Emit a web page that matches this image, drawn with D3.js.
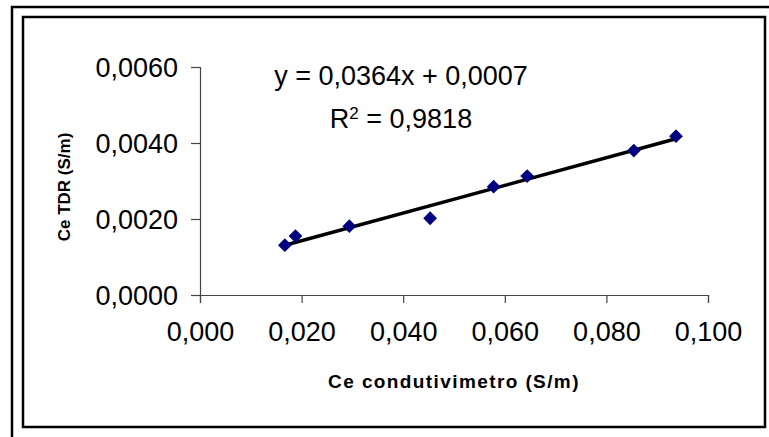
<!DOCTYPE html>
<html><head><meta charset="utf-8">
<script src="https://cdn.jsdelivr.net/npm/d3@7"></script>
<style>body{margin:0;background:#fff}svg{display:block}</style>
</head><body>
<script>
const xValues = [0.0167, 0.0188, 0.0294, 0.0453, 0.0578, 0.0644, 0.0854, 0.0937];
const yValues = [0.00131, 0.00155, 0.00181, 0.00202, 0.00285, 0.00313, 0.00380, 0.00418];
const xTicks = [0, 0.02, 0.04, 0.06, 0.08, 0.1];
const yTicks = [0, 0.002, 0.004, 0.006];
const slope = 0.0364, intercept = 0.0007;
const eqText = "y = 0,0364x + 0,0007";
const r2Value = "0,9818";
const xTitle = "Ce condutivimetro (S/m)";
const yTitle = "Ce TDR (S/m)";

const W = 769, H = 437;
const svg = d3.select("body").append("svg").attr("width", W).attr("height", H);
const font = "'Liberation Sans', Arial, sans-serif";

// frames
svg.append("path").attr("d", `M12,${H} V7 H${W}`).attr("fill","none").attr("stroke","#000").attr("stroke-width",2.5);
svg.append("rect").attr("x",23).attr("y",17).attr("width",742).attr("height",410)
  .attr("fill","none").attr("stroke","#000").attr("stroke-width",2.5);

const x = d3.scaleLinear().domain([0, 0.1]).range([200, 708]);
const y = d3.scaleLinear().domain([0, 0.006]).range([295, 67]);
const fmtX = d => d3.format(".3f")(d).replace(".", ",");
const fmtY = d => d3.format(".4f")(d).replace(".", ",");

const xAxis = svg.append("g").attr("transform", `translate(0,${y(0)})`)
  .call(d3.axisBottom(x).tickValues(xTicks).tickFormat(fmtX).tickSize(8).tickPadding(18));
const yAxis = svg.append("g").attr("transform", `translate(${x(0)},0)`)
  .call(d3.axisLeft(y).tickValues(yTicks).tickFormat(fmtY).tickSize(9).tickPadding(13));
[xAxis, yAxis].forEach(g => {
  g.selectAll("path,line").attr("stroke","#444").attr("stroke-width",1.2);
  g.selectAll("text").attr("font-family", font).attr("font-size", 27).attr("fill","#000");
});
xAxis.selectAll("text").attr("dy","0.75em");
yAxis.selectAll("text").attr("dy","0.36em");

// trend line
const xmin = d3.min(xValues), xmax = d3.max(xValues);
svg.append("line")
  .attr("x1", x(xmin)).attr("y1", y(slope*xmin+intercept))
  .attr("x2", x(xmax)).attr("y2", y(slope*xmax+intercept))
  .attr("stroke","#000").attr("stroke-width",3.5);

// points
const pts = xValues.map((v,i)=>({x:v,y:yValues[i]}));
svg.append("g").selectAll("path").data(pts).join("path")
  .attr("d", d3.symbol(d3.symbolSquare, 95)())
  .attr("transform", d => `translate(${x(d.x)},${y(d.y)}) rotate(45)`)
  .attr("fill","#000080");

// equation
svg.append("text").attr("x",401).attr("y",85).attr("text-anchor","middle")
  .attr("font-family",font).attr("font-size",27).text(eqText);
const r2 = svg.append("text").attr("x",401).attr("y",128).attr("text-anchor","middle")
  .attr("font-family",font).attr("font-size",27);
r2.append("tspan").text("R");
r2.append("tspan").attr("baseline-shift","super").attr("font-size",17).text("2");
r2.append("tspan").text(" = " + r2Value);

// titles
svg.append("text").attr("x",454).attr("y",388).attr("text-anchor","middle")
  .attr("font-family",font).attr("font-size",19).attr("font-weight","bold")
  .attr("letter-spacing","1.4px").text(xTitle);
svg.append("text").attr("transform","translate(70,187) rotate(-90)").attr("text-anchor","middle")
  .attr("font-family",font).attr("font-size",17).attr("font-weight","bold").text(yTitle);
</script>
</body></html>
